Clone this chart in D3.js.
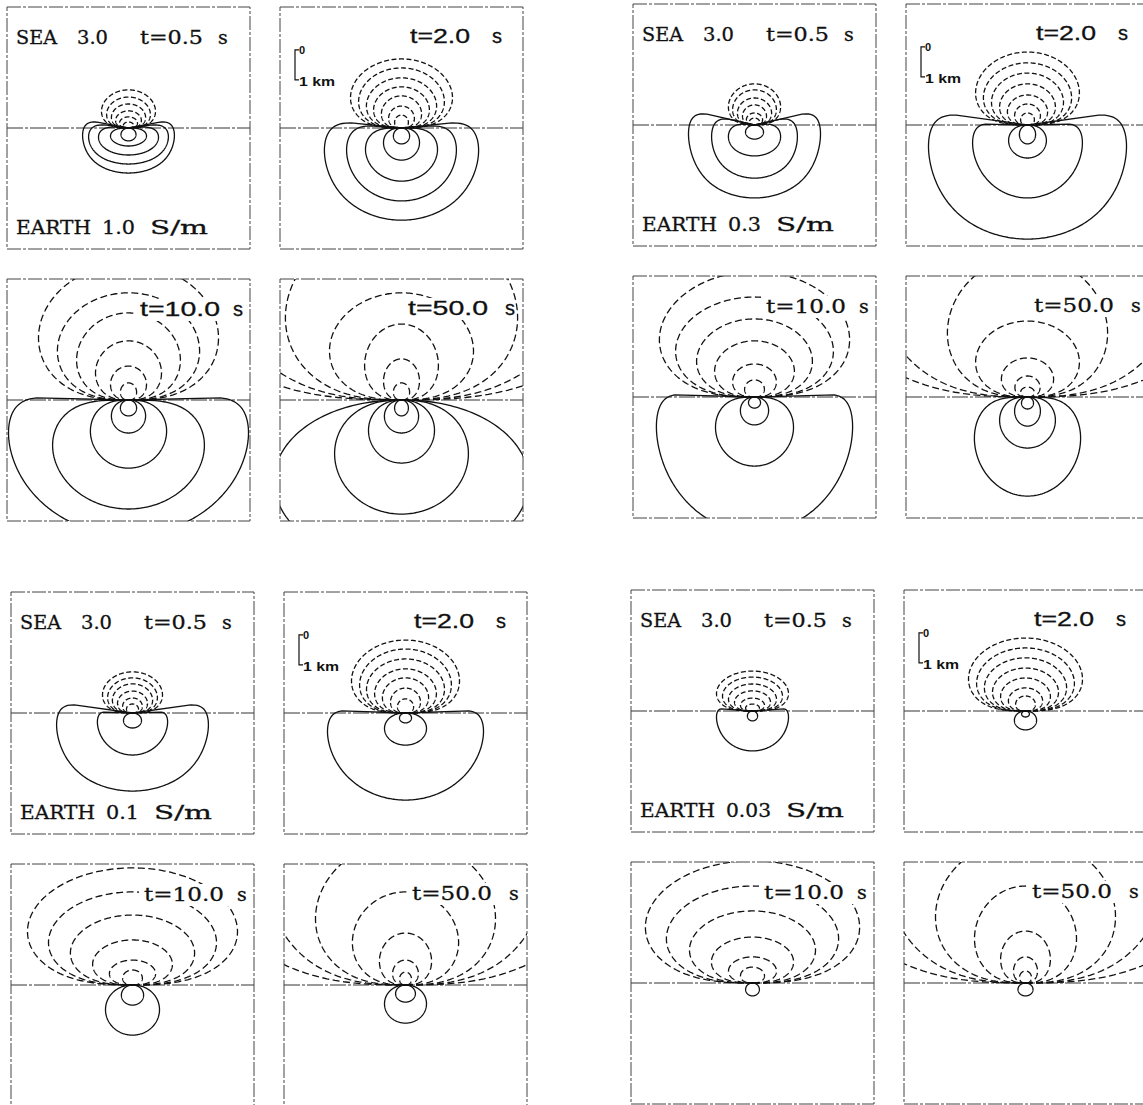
<!DOCTYPE html>
<html>
<head>
<meta charset="utf-8">
<script src="https://cdn.jsdelivr.net/npm/d3@7/dist/d3.min.js"></script>
<style>
  body { margin: 0; background: #fff; }
</style>
</head>
<body>
<div id="fig"></div>
<script>
"use strict";

// labels
const seaConductivity = "3.0";
const earthConductivity = ["1.0", "0.3", "0.1", "0.03"];
const times = ["0.5", "2.0", "10.0", "50.0"];

// sea (dashed) contours: [half width km, height km], one list per time
// shape exponent of the sea loops for each time
const seaShape = [0.5, 0.5, 0.6, 0.6];

const sea1 = [
    [[0.9, 1.27], [0.73, 1.03], [0.57, 0.8], [0.43, 0.57], [0.3, 0.37], [0.17, 0.2]],
    [[1.7, 2.3], [1.43, 2.0], [1.17, 1.67], [0.93, 1.37], [0.67, 1.07], [0.43, 0.73], [0.23, 0.43]],
    [[3.0, 4.53], [2.37, 3.57], [1.73, 2.9], [1.1, 1.97], [0.6, 1.13], [0.27, 0.57]],
    [[3.87, 6.0], [2.4, 3.57], [1.23, 2.53], [0.6, 1.37], [0.27, 0.57], [6.07, 10.3], [8.77, 14.87]]
];
const sea2 = [
    [[0.87, 1.37], [0.73, 1.17], [0.57, 0.9], [0.4, 0.67], [0.27, 0.4], [0.17, 0.23]],
    [[1.73, 2.43], [1.47, 2.07], [1.2, 1.73], [0.93, 1.37], [0.67, 1.0], [0.43, 0.7], [0.23, 0.4]],
    [[3.17, 4.17], [2.63, 3.33], [1.93, 2.6], [1.33, 1.87], [0.73, 1.1], [0.33, 0.57]],
    [[2.67, 4.67], [1.73, 2.53], [0.87, 1.3], [0.42, 0.7], [0.23, 0.33], [4.97, 8.43], [7.33, 12.43]]
];
const sea3 = [
    [[1.0, 1.37], [0.83, 1.17], [0.67, 0.97], [0.5, 0.73], [0.33, 0.5], [0.2, 0.3]],
    [[1.8, 2.43], [1.53, 2.13], [1.3, 1.8], [1.03, 1.47], [0.77, 1.17], [0.5, 0.83], [0.27, 0.47]],
    [[3.5, 3.9], [2.8, 3.1], [2.07, 2.33], [1.33, 1.5], [0.77, 0.83], [0.33, 0.5]],
    [[3.0, 4.83], [1.77, 3.1], [0.87, 1.73], [0.43, 0.83], [0.2, 0.43], [4.57, 7.77], [7.13, 12.13]]
];
const sea4 = [
    [[1.2, 1.33], [1.0, 1.13], [0.8, 0.9], [0.6, 0.67], [0.4, 0.43], [0.23, 0.23]],
    [[1.9, 2.43], [1.63, 2.1], [1.37, 1.77], [1.1, 1.43], [0.83, 1.1], [0.57, 0.77], [0.33, 0.5]],
    [[3.57, 4.07], [2.87, 3.23], [2.1, 2.4], [1.37, 1.53], [0.8, 0.87], [0.4, 0.53]],
    [[3.0, 4.83], [1.7, 3.23], [0.83, 1.73], [0.4, 0.87], [0.2, 0.4], [4.6, 7.83], [7.33, 12.43]]
];

// earth (solid) contours: [half width km, depth km, shape exponent, lip above sea floor km]
const earth1 = [
    [[1.53, 1.5, 0.15, 0.2], [1.33, 1.2, 0.2, 0.1], [1.0, 0.9, 0.3, 0.03], [0.6, 0.6, 0.5, 0], [0.25, 0.43, 1, 0]],
    [[2.57, 3.07, 0.15, 0.17], [1.83, 2.43, 0.2, 0.07], [1.2, 1.77, 0.35, 0], [0.6, 1.07, 0.6, 0], [0.27, 0.53, 1, 0]],
    [[4.0, 4.5, 0.1, 0.07], [2.53, 3.63, 0.4, 0], [1.27, 2.27, 0.6, 0], [0.57, 1.1, 0.8, 0], [0.27, 0.53, 1, 0]],
    [[4.25, 5.5, 0.9, 0], [2.23, 3.8, 0.7, 0], [1.1, 2.1, 0.8, 0], [0.57, 1.1, 0.9, 0], [0.23, 0.53, 1, 0]]
];
const earth2 = [
    [[2.2, 2.43, 0.12, 0.37], [1.43, 1.77, 0.2, 0.2], [0.87, 1.03, 0.4, 0.03], [0.3, 0.47, 1, 0]],
    [[3.3, 3.8, 0.12, 0.33], [1.83, 2.43, 0.1, 0.03], [0.63, 1.1, 0.7, 0], [0.27, 0.63, 1, 0]],
    [[3.27, 4.5, 0.08, 0.07], [1.3, 2.3, 0.5, 0], [0.47, 0.93, 0.8, 0], [0.2, 0.37, 1, 0]],
    [[1.77, 3.3, 0.4, 0], [0.93, 1.7, 0.6, 0], [0.43, 0.97, 0.8, 0], [0.2, 0.4, 1, 0]]
];
const earth3 = [
    [[2.53, 2.6, 0.1, 0.27], [1.17, 1.4, 0.08, 0.03], [0.3, 0.5, 1, 0]],
    [[2.6, 2.9, 0.08, 0.07], [0.7, 1.07, 0.8, 0], [0.2, 0.33, 1, 0]],
    [[0.9, 1.67, 0.9, 0], [0.37, 0.67, 1, 0]],
    [[0.7, 1.27, 0.9, 0], [0.33, 0.57, 1, 0]]
];
const earth4 = [
    [[1.2, 1.33, 0.06, 0.07], [0.17, 0.33, 1, 0]],
    [[0.37, 0.63, 0.9, 0], [0.13, 0.2, 1, 0]],
    [[0.23, 0.43, 1, 0]],
    [[0.25, 0.43, 1, 0]]
];

const seaSets = [sea1, sea2, sea3, sea4];
const earthSets = [earth1, earth2, earth3, earth4];

// scale bar (km above the sea floor, and its length)
const scaleBarTop = 2.6;
const scaleBarLength = 1;

// ---------------------------------------------------------------

const W = 243, H = 242;
const stepX = 273, stepY = 272;
const groupOrigin = [[7, 7], [633, 4], [11, 592], [631, 590]];

const x = d3.scaleLinear().domain([-4.05, 4.05]).range([0, W]);
const y = d3.scaleLinear().domain([4.03, -4.03]).range([0, H]);

const line = d3.line().x(p => x(p[0])).y(p => y(p[1]));
const N = 240;

function seaLoop(c, k) {
    const pts = d3.range(N + 1).map(i => {
        const a = Math.PI * i / N;
        const s = (i === 0 || i === N) ? 0 : Math.sin(a);
        const r = Math.pow(s, k);
        return [r * Math.cos(a), r * s];
    });
    const mx = d3.max(pts, p => Math.abs(p[0]));
    const my = d3.max(pts, p => p[1]);
    return pts.map(p => [p[0] * c[0] / mx, p[1] * c[1] / my]);
}

function earthLoop(c) {
    const [w, d, k, lip] = c;
    const base = d3.range(N + 1).map(i => {
        const a = Math.PI + Math.PI * i / N;
        const s = (i === 0 || i === N) ? 0 : Math.abs(Math.sin(a));
        const cs = Math.cos(a);
        const r = Math.pow(s, k);
        return [r * cs, -r * s, r * Math.pow(Math.abs(cs), 6)];
    });
    const mx = d3.max(base, p => Math.abs(p[0]));
    const my = d3.max(base, p => -p[1]);
    const shape = L => base.map(p => [p[0] * w / mx, p[1] * d / my + L * p[2]]);
    if (!(lip > 0)) return shape(0);
    let lo = 0, hi = lip * 60;
    for (let j = 0; j < 40; j++) {
        const mid = (lo + hi) / 2;
        if (d3.max(shape(mid), p => p[1]) < lip) lo = mid; else hi = mid;
    }
    return shape(lo);
}

const svg = d3.select("#fig").append("svg")
    .attr("width", 1143)
    .attr("height", 1105)
    .style("background", "#fff");

const serif = "'DejaVu Serif', 'Liberation Serif', serif";
const sans = "'Liberation Sans', 'DejaVu Sans', Arial, sans-serif";

function label(g, txt, px, py, len, font, size) {
    const t = g.append("text")
        .attr("x", px).attr("y", py)
        .attr("font-family", font)
        .attr("font-size", size)
        .attr("fill", "#111")
        .attr("stroke", "#111")
        .attr("stroke-width", 0.3)
        .text(txt);
    if (len) t.attr("textLength", len).attr("lengthAdjust", "spacingAndGlyphs");
    return t;
}

// time label positions per column (relative to panel)
const timePos = [
    { x: 133, y: 37, len: 63, s: 211 },
    { x: 130, y: 36, len: 60, s: 212 },
    { x: 133, y: 37, len: 80, s: 226 },
    { x: 128, y: 36, len: 80, s: 225 }
];

groupOrigin.forEach((o, gi) => {
    times.forEach((t, ti) => {
        const col = ti % 2, row = Math.floor(ti / 2);
        const px = o[0] + col * stepX, py = o[1] + row * stepY;
        const panel = svg.append("g").attr("transform", `translate(${px},${py})`);
        const clipId = `clip-${gi}-${ti}`;
        panel.append("clipPath").attr("id", clipId)
            .append("rect").attr("width", W).attr("height", H);

        const inner = panel.append("g").attr("clip-path", `url(#${clipId})`);

        // sea floor
        inner.append("line")
            .attr("x1", 0).attr("x2", W)
            .attr("y1", y(0)).attr("y2", y(0))
            .attr("stroke", "#333").attr("stroke-width", 1)
            .attr("stroke-dasharray", "16,2,3,2");

        // sea contours (dashed)
        inner.selectAll("path.sea")
            .data(seaSets[gi][ti])
            .join("path")
            .attr("class", "sea")
            .attr("d", c => line(seaLoop(c, seaShape[ti])))
            .attr("fill", "none")
            .attr("stroke", "#111")
            .attr("stroke-width", 1.3)
            .attr("stroke-dasharray", ti < 2 ? "5,2.5" : "7,3.5");

        // earth contours (solid)
        inner.selectAll("path.earth")
            .data(earthSets[gi][ti])
            .join("path")
            .attr("class", "earth")
            .attr("d", c => line(earthLoop(c)))
            .attr("fill", "none")
            .attr("stroke", "#111")
            .attr("stroke-width", 1.3);

        // frame
        panel.append("rect")
            .attr("x", 0).attr("y", 0).attr("width", W).attr("height", H)
            .attr("fill", "none")
            .attr("stroke", "#444").attr("stroke-width", 1)
            .attr("stroke-dasharray", "14,2,3,2");

        // time label
        const tp = timePos[ti];
        const font = (ti === 1 || (gi === 0 && ti > 1)) ? sans : serif;
        const size = font === sans ? 20 : 19;
        if (ti > 1) {
            panel.append("rect")
                .attr("x", tp.x - 5).attr("y", tp.y - 17)
                .attr("width", tp.s + 14 - tp.x).attr("height", 22)
                .attr("fill", "#fff");
        }
        label(panel, "t=" + t, tp.x, tp.y, tp.len, font, size);
        label(panel, "s", tp.s, tp.y, null, font, size);

        if (ti === 0) {
            label(panel, "SEA", 9, 37, 41, serif, 19);
            label(panel, seaConductivity, 70, 37, 31, serif, 19);
            const v = earthConductivity[gi];
            const vLen = v.length * 12 - 3;
            label(panel, "EARTH", 9, 227, 75, serif, 19);
            label(panel, v, 95, 227, vLen, serif, 19);
            label(panel, "S/m", 95 + vLen + 15, 227, 58, serif, 19);
        }

        if (ti === 1) {
            const bx = 15;
            const y0 = y(scaleBarTop), y1 = y(scaleBarTop - scaleBarLength);
            panel.append("path")
                .attr("d", `M${bx + 4},${y0}H${bx}V${y1}H${bx + 4}`)
                .attr("fill", "none").attr("stroke", "#111").attr("stroke-width", 1.2);
            panel.append("text")
                .attr("x", bx + 4).attr("y", y0 + 4)
                .attr("font-family", sans).attr("font-size", 11).attr("font-weight", "bold")
                .attr("fill", "#111").text("0");
            panel.append("text")
                .attr("x", bx + 4).attr("y", y1 + 6)
                .attr("font-family", sans).attr("font-size", 12).attr("font-weight", "bold")
                .attr("fill", "#111")
                .attr("textLength", 36).attr("lengthAdjust", "spacingAndGlyphs")
                .text("1 km");
        }
    });
});
</script>
</body>
</html>
